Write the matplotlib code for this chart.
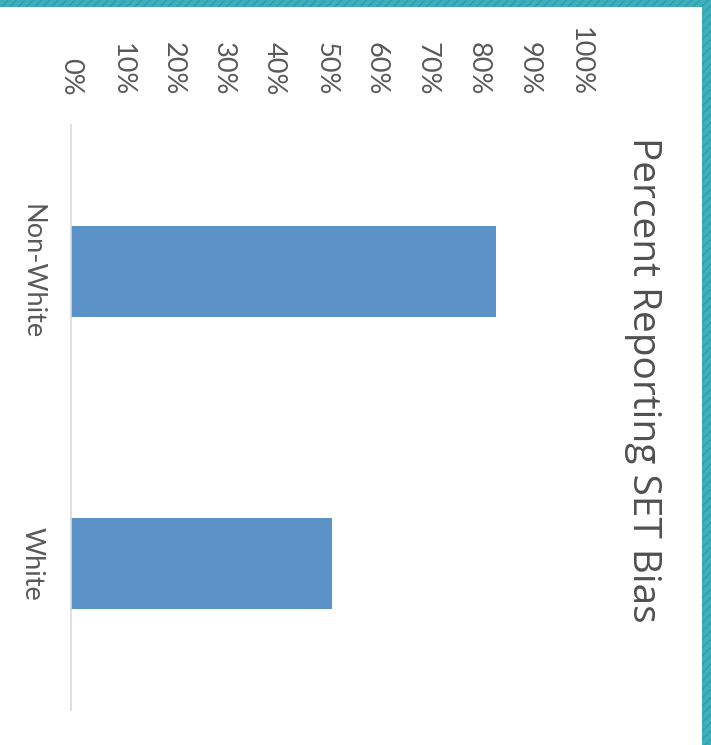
import matplotlib.pyplot as plt
import matplotlib
from matplotlib.patches import Rectangle
from matplotlib.ticker import PercentFormatter

matplotlib.rcParams.update({'font.family': ['Lato', 'DejaVu Sans']})

groups = ['Non-White', 'White']
pct = [0.835, 0.513]
ticks = [0, 0.1, 0.2, 0.3, 0.4, 0.5, 0.6, 0.7, 0.8, 0.9, 1.0]

grey = '#595959'

fig = plt.figure(figsize=[7.11, 7.45], dpi=100)
ax = fig.add_axes([71/711, 35/745, (580-71)/711, (710-125)/745])

# chart is laid on its side: categories run down, values run right
ax.barh(range(len(groups)), pct, height=0.31, color='#5b93c8')
ax.set_ylim(len(groups) - 0.5, -0.5)
ax.set_xlim(0, 1)

ax.xaxis.tick_top()
ax.set_xticks(ticks)
ax.xaxis.set_major_formatter(PercentFormatter(1.0, decimals=0))
ax.tick_params(axis='x', length=0, pad=21, labelsize=19.5, labelcolor=grey,
               labelrotation=-90)
ax.set_yticks(range(len(groups)))
ax.set_yticklabels(groups)
ax.tick_params(axis='y', length=0, pad=19, labelsize=19.5, labelcolor=grey,
               labelrotation=-90)
for lbl in ax.get_yticklabels():
    lbl.set_verticalalignment('center')

for side in ['top', 'right', 'bottom']:
    ax.spines[side].set_visible(False)
ax.spines['left'].set_color('#d9d9d9')
ax.spines['left'].set_linewidth(1.2)

fig.text(643/711, (745-380)/745, 'Percent Reporting SET Bias', rotation=-90,
         ha='center', va='center', fontsize=28, color='#505050',
         family=['Open Sans', 'DejaVu Sans'])

# teal frame along top and right edges
for x0, y0, w, h in [(0, 1 - 7/745, 1, 7/745), (702/711, 0, 9/711, 1)]:
    fig.patches.append(Rectangle((x0, y0), w, h, transform=fig.transFigure,
                                 facecolor='#3fafbe', edgecolor='#2f9dad',
                                 hatch='////', lw=0, zorder=5))

fig.savefig('out.png', dpi=100)
